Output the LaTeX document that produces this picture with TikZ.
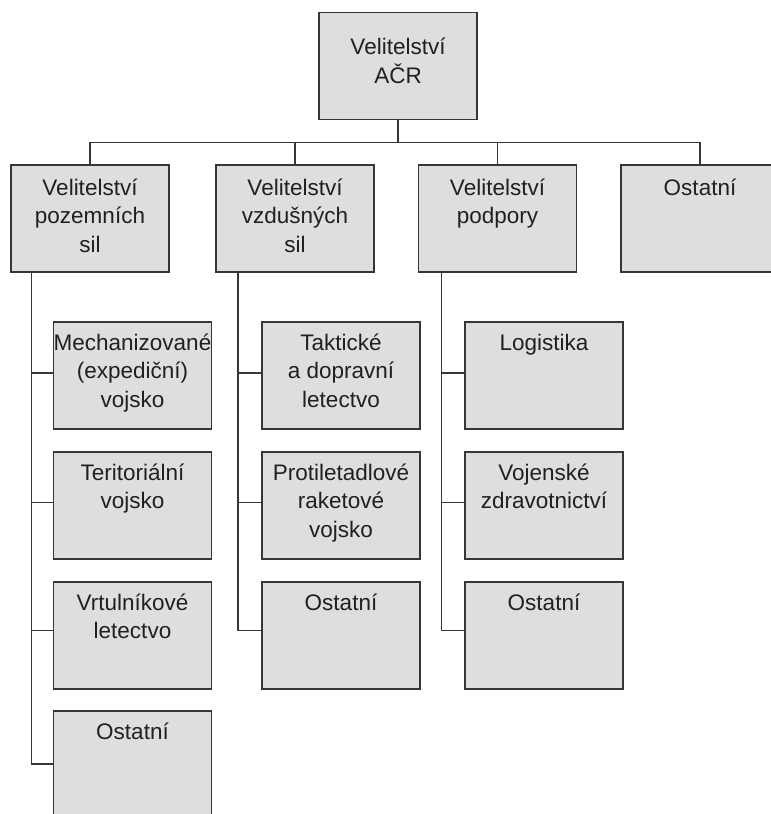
\documentclass[tikz,border=0pt]{standalone}
\usepackage{fontspec}
\setmainfont{Liberation Sans}
\usetikzlibrary{calc}
\definecolor{boxfill}{RGB}{221,222,224}
\definecolor{linecol}{RGB}{55,55,55}
\definecolor{txtcol}{RGB}{35,31,32}
\tikzset{
  orgbox/.style={draw=linecol, fill=boxfill, line width=1.3pt, rectangle, inner sep=0pt,
    minimum width=158pt, minimum height=107pt},
  orgtxt/.style={inner sep=0pt, anchor=base, text=txtcol},
  conn/.style={draw=linecol, line width=1.3pt}
}
\newcommand{\bt}[1]{\parbox[t]{170pt}{\centering\fontsize{22.5}{28.5}\selectfont #1}}
\begin{document}
\begin{tikzpicture}[x=1pt,y=-1pt]
\clip (0,0) rectangle (771,814);
\fill[white] (0,0) rectangle (771,814);
% top
\node[orgbox] (top) at (398,66) {};
\node[orgtxt] (ttop) at ($(top.north)+(0,-43pt)$) {\bt{Velitelství\\AČR}};
% level 1
\node[orgbox] (b1) at (90,218.5) {};
\node[orgbox] (b2) at (295,218.5) {};
\node[orgbox] (b3) at (497.5,218.5) {};
\node[orgbox] (b4) at (700,218.5) {};
\node[orgtxt] (tb1) at ($(b1.north)+(0,-31pt)$) {\bt{Velitelství\\pozemních\\sil}};
\node[orgtxt] (tb2) at ($(b2.north)+(0,-31pt)$) {\bt{Velitelství\\vzdušných\\sil}};
\node[orgtxt] (tb3) at ($(b3.north)+(0,-31pt)$) {\bt{Velitelství\\podpory}};
\node[orgtxt] (tb4) at ($(b4.north)+(0,-31pt)$) {\bt{Ostatní}};
% children col 1
\node[orgbox] (c11) at (132.5,375.5) {};
\node[orgbox] (c12) at (132.5,505.5) {};
\node[orgbox] (c13) at (132.5,635.5) {};
\node[orgbox] (c14) at (132.5,764.5) {};
\node[orgtxt] (tc11) at ($(c11.north)+(0,-29pt)$) {\bt{Mechanizované\\(expediční)\\vojsko}};
\node[orgtxt] (tc12) at ($(c12.north)+(0,-29pt)$) {\bt{Teritoriální\\vojsko}};
\node[orgtxt] (tc13) at ($(c13.north)+(0,-29pt)$) {\bt{Vrtulníkové\\letectvo}};
\node[orgtxt] (tc14) at ($(c14.north)+(0,-29pt)$) {\bt{Ostatní}};
% children col 2
\node[orgbox] (c21) at (341,375.5) {};
\node[orgbox] (c22) at (341,505.5) {};
\node[orgbox] (c23) at (341,635.5) {};
\node[orgtxt] (tc21) at ($(c21.north)+(0,-29pt)$) {\bt{Taktické\\a dopravní\\letectvo}};
\node[orgtxt] (tc22) at ($(c22.north)+(0,-29pt)$) {\bt{Protiletadlové\\raketové\\vojsko}};
\node[orgtxt] (tc23) at ($(c23.north)+(0,-29pt)$) {\bt{Ostatní}};
% children col 3
\node[orgbox] (c31) at (544,375.5) {};
\node[orgbox] (c32) at (544,505.5) {};
\node[orgbox] (c33) at (544,635.5) {};
\node[orgtxt] (tc31) at ($(c31.north)+(0,-29pt)$) {\bt{Logistika}};
\node[orgtxt] (tc32) at ($(c32.north)+(0,-29pt)$) {\bt{Vojenské\\zdravotnictví}};
\node[orgtxt] (tc33) at ($(c33.north)+(0,-29pt)$) {\bt{Ostatní}};
% top connectors
\coordinate (bus) at ($(top.south)+(0,-22pt)$);
\draw[conn] (top.south) -- (bus);
\draw[conn] (b1.north) |- (bus) -| (b4.north);
\draw[conn] (b2.north) -- (b2.north |- bus);
\draw[conn] (b3.north) -- (b3.north |- bus);
% trunks
\coordinate (t1) at ($(b1.south west)+(21pt,0)$);
\coordinate (t2) at ($(b2.south west)+(22.5pt,0)$);
\coordinate (t3) at ($(b3.south west)+(23.5pt,0)$);
\draw[conn] (t1) |- ([yshift=0.5pt]c14.west);
\draw[conn] (t1 |- c11.west) ++(0,2.5pt) -- ([yshift=2.5pt]c11.west);
\draw[conn] (t1 |- c12.west) ++(0,3pt) -- ([yshift=3pt]c12.west);
\draw[conn] (t1 |- c13.west) ++(0,5pt) -- ([yshift=5pt]c13.west);
\draw[conn] (t2) |- ([yshift=5pt]c23.west);
\draw[conn] (t2 |- c21.west) ++(0,2.5pt) -- ([yshift=2.5pt]c21.west);
\draw[conn] (t2 |- c22.west) ++(0,3pt) -- ([yshift=3pt]c22.west);
\draw[conn] (t3) |- ([yshift=5pt]c33.west);
\draw[conn] (t3 |- c31.west) ++(0,2.5pt) -- ([yshift=2.5pt]c31.west);
\draw[conn] (t3 |- c32.west) ++(0,3pt) -- ([yshift=3pt]c32.west);
\end{tikzpicture}
\end{document}
